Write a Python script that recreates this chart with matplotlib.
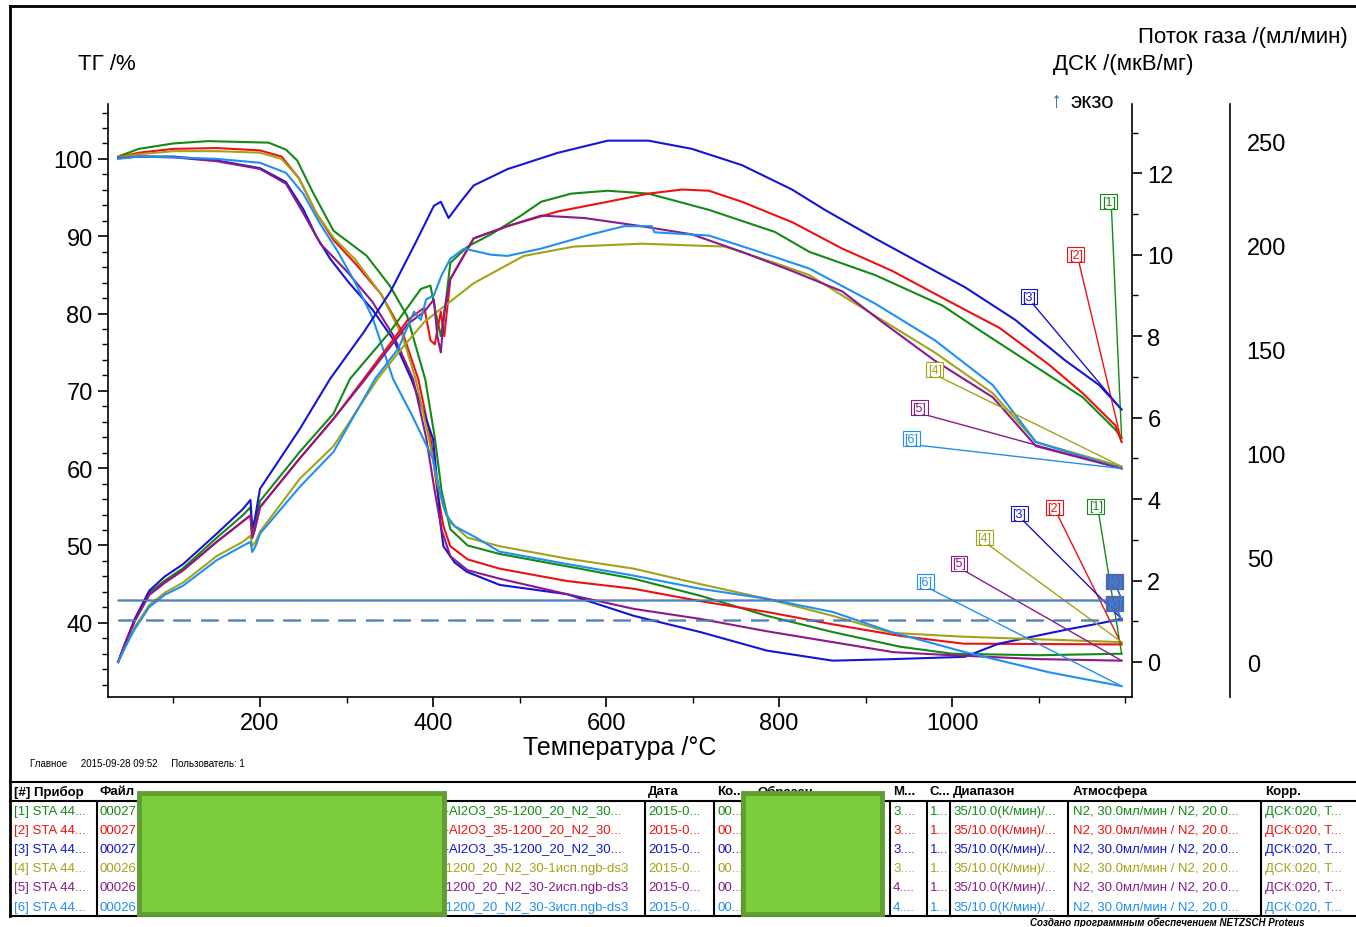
import matplotlib
matplotlib.use('Agg')
import matplotlib.pyplot as plt
from matplotlib.patches import Rectangle
from matplotlib.lines import Line2D
from matplotlib.ticker import MultipleLocator

plt.rcParams['font.family'] = ['Liberation Sans', 'DejaVu Sans']

W, H = 1356, 928

# samples [1]..[6]
names = ['[1]', '[2]', '[3]', '[4]', '[5]', '[6]']
colors = ['#138a13', '#ee1111', '#1515d5', '#a3a31a', '#8b1a8b', '#2090f0']

# TG /% vs temperature /°C
tg1 = [(36, 100.3), (60, 101.3), (100, 102.0), (140, 102.3), (210, 102.1), (230, 101.2), (243, 99.8),
       (261, 95.7), (285, 90.7), (323, 87.5), (350, 83.6), (370, 79.7), (391, 71.5), (402, 64.0),
       (410, 57.0), (420, 52.1), (440, 50.0), (477, 48.9), (555, 47.3), (632, 45.7), (709, 43.5),
       (786, 40.9), (862, 38.8), (940, 36.9), (1000, 36.0), (1100, 35.8), (1196, 36.0)]
tg2 = [(36, 100.2), (60, 100.8), (100, 101.3), (150, 101.4), (200, 101.1), (225, 100.3), (245, 97.5),
       (265, 93.0), (285, 89.5), (310, 86.5), (340, 82.5), (365, 77.5), (383, 71.5), (397, 64.0),
       (405, 57.0), (412, 52.5), (420, 49.9), (440, 48.2), (477, 47.0), (555, 45.4), (632, 44.4),
       (709, 42.8), (786, 41.4), (862, 39.8), (940, 38.3), (1013, 37.3), (1196, 37.2)]
tg3 = [(36, 100.2), (60, 100.3), (100, 100.3), (150, 99.8), (200, 98.8), (230, 97.0), (250, 93.5),
       (265, 90.0), (281, 87.1), (302, 84.1), (330, 80.5), (355, 76.5), (375, 71.5), (390, 67.0),
       (400, 63.8), (405, 58.0), (408, 53.4), (412, 49.9), (425, 47.8), (439, 46.6), (477, 44.9),
       (555, 43.7), (632, 40.9), (709, 38.8), (786, 36.4), (862, 35.1), (932, 35.3), (1015, 35.6),
       (1054, 37.3), (1136, 39.2), (1174, 40.0), (1196, 40.5)]
tg4 = [(36, 100.2), (60, 100.6), (100, 101.0), (150, 101.0), (200, 100.8), (225, 100.0), (245, 97.5),
       (265, 93.0), (285, 89.8), (310, 87.0), (340, 82.5), (365, 77.0), (380, 71.5), (395, 64.0),
       (405, 58.0), (412, 55.0), (420, 53.0), (440, 51.0), (477, 49.9), (555, 48.3), (632, 47.0),
       (709, 45.0), (786, 43.1), (862, 40.9), (930, 38.7), (1013, 38.2), (1196, 37.5)]
tg5 = [(36, 100.1), (60, 100.3), (100, 100.2), (150, 99.7), (200, 98.7), (230, 96.8), (250, 93.0),
       (270, 89.0), (300, 85.5), (330, 81.5), (355, 77.0), (377, 71.5), (392, 64.0), (402, 57.0),
       (410, 52.0), (420, 48.6), (440, 46.8), (477, 45.7), (555, 43.7), (632, 41.8), (709, 40.5),
       (786, 38.9), (862, 37.5), (932, 36.2), (1000, 35.8), (1100, 35.3), (1196, 35.1)]
tg6 = [(36, 100.0), (60, 100.3), (100, 100.2), (150, 100.0), (200, 99.5), (230, 98.2), (250, 95.5),
       (270, 91.5), (290, 88.0), (310, 84.0), (330, 79.5), (354, 71.5), (375, 67.0), (400, 61.2),
       (408, 57.0), (415, 54.0), (425, 52.5), (450, 51.0), (477, 49.2), (555, 47.6), (632, 46.1),
       (709, 44.4), (786, 43.1), (862, 41.4), (930, 38.8), (1015, 36.2), (1112, 33.6), (1196, 31.8)]

# DSC /(мкВ/мг) vs temperature /°C
dsc1 = [(36, 0.0), (45, 0.5), (55, 1.0), (72, 1.7), (90, 2.0), (111, 2.3), (150, 3.05), (180, 3.6),
        (189, 3.8), (191, 3.2), (194, 3.4), (200, 3.95), (246, 5.16), (285, 6.1), (304, 6.95),
        (350, 8.1), (386, 9.16), (397, 9.24), (403, 8.6), (409, 8.0), (414, 8.7), (420, 9.8),
        (440, 10.2), (467, 10.5), (501, 10.95), (525, 11.3), (560, 11.5), (602, 11.57), (649, 11.5),
        (719, 11.1), (795, 10.56), (835, 10.07), (911, 9.5), (989, 8.75), (1035, 8.1), (1093, 7.3),
        (1151, 6.5), (1189, 5.7), (1196, 5.5)]
dsc2 = [(36, 0.0), (45, 0.5), (55, 1.0), (72, 1.65), (90, 1.95), (111, 2.25), (150, 2.95), (180, 3.45),
        (189, 3.6), (191, 3.05), (194, 3.25), (200, 3.8), (246, 5.0), (285, 5.97), (320, 6.95),
        (371, 8.4), (390, 8.7), (397, 7.9), (402, 7.8), (409, 8.6), (413, 8.0), (420, 9.4),
        (447, 10.4), (486, 10.7), (544, 11.06), (602, 11.3), (649, 11.5), (688, 11.6), (719, 11.57),
        (757, 11.3), (815, 10.8), (873, 10.15), (931, 9.6), (997, 8.85), (1055, 8.2), (1112, 7.3),
        (1151, 6.6), (1189, 5.8), (1196, 5.4)]
dsc3 = [(36, 0.0), (45, 0.5), (55, 1.05), (72, 1.75), (90, 2.1), (111, 2.4), (150, 3.15), (180, 3.75),
        (189, 3.98), (191, 3.3), (194, 3.5), (200, 4.25), (246, 5.72), (281, 6.95), (320, 8.1),
        (351, 9.1), (380, 10.3), (401, 11.2), (409, 11.3), (418, 10.9), (432, 11.3), (447, 11.7),
        (486, 12.1), (544, 12.5), (602, 12.8), (649, 12.8), (699, 12.6), (757, 12.2), (815, 11.6),
        (853, 11.1), (911, 10.4), (1015, 9.2), (1073, 8.4), (1131, 7.4), (1170, 6.8), (1196, 6.2)]
dsc4 = [(36, 0.0), (45, 0.4), (55, 0.85), (72, 1.4), (90, 1.7), (111, 1.95), (150, 2.6), (180, 2.95),
        (189, 3.1), (191, 2.85), (195, 2.95), (200, 3.2), (246, 4.5), (285, 5.3), (336, 6.95),
        (360, 7.6), (390, 8.35), (420, 8.85), (447, 9.3), (505, 9.97), (563, 10.2), (641, 10.27),
        (737, 10.2), (795, 9.8), (835, 9.5), (911, 8.5), (980, 7.6), (1047, 6.6), (1097, 5.4),
        (1196, 4.8)]
dsc5 = [(36, 0.0), (45, 0.5), (55, 1.0), (72, 1.65), (90, 1.95), (111, 2.25), (150, 2.95), (180, 3.45),
        (189, 3.6), (191, 3.05), (194, 3.25), (200, 3.8), (246, 5.0), (285, 5.97), (320, 6.9),
        (371, 8.3), (390, 8.6), (401, 8.9), (405, 8.0), (409, 7.6), (413, 8.6), (420, 9.4),
        (447, 10.4), (486, 10.7), (525, 10.96), (575, 10.9), (641, 10.7), (699, 10.5), (757, 10.07),
        (815, 9.6), (873, 9.1), (919, 8.35), (980, 7.4), (1047, 6.5), (1097, 5.3), (1196, 4.75)]
dsc6 = [(36, 0.0), (45, 0.4), (55, 0.8), (72, 1.35), (90, 1.65), (111, 1.87), (150, 2.5), (180, 2.85),
        (189, 2.95), (191, 2.7), (195, 2.85), (200, 3.15), (246, 4.3), (285, 5.16), (333, 6.95),
        (360, 7.7), (378, 8.6), (386, 8.4), (392, 8.9), (401, 9.0), (410, 9.5), (420, 9.9),
        (436, 10.15), (467, 10.0), (486, 9.97), (525, 10.15), (583, 10.5), (621, 10.7), (653, 10.7),
        (656, 10.55), (719, 10.47), (777, 10.07), (835, 9.66), (911, 8.8), (980, 7.9), (1047, 6.8),
        (1097, 5.4), (1196, 4.75)]

# gas flow /(мл/мин)
gas_T = [36, 1196]
gas_purge = [30, 30]
gas_prot = [20, 20]

tg_all = [tg1, tg2, tg3, tg4, tg5, tg6]
dsc_all = [dsc1, dsc2, dsc3, dsc4, dsc5, dsc6]

# label anchor positions (layout, data coords)
dsc_lab_pos = [(1181, 11.3), (1143, 10.0), (1089, 8.97), (980, 7.17), (962, 6.24), (953, 5.48)]
tg_lab_pos = [(1166, 55.1), (1118, 54.9), (1078, 54.1), (1037, 51.0), (1008, 47.7), (969, 45.3)]

# table
hdr = ['[#] Прибор', 'Файл', 'Дата', 'Ко...', 'Образец', 'М...', 'С...', 'Диапазон', 'Атмосфера', 'Корр.']
hdr_x = [14, 100, 648, 717, 757, 893, 930, 953, 1073, 1265]
col_instr = ['[1] STA 44...', '[2] STA 44...', '[3] STA 44...', '[4] STA 44...', '[5] STA 44...', '[6] STA 44...']
col_file_a = ['00027', '00027', '00027', '00026', '00026', '00026']
col_file_b = [')-Al2O3_35-1200_20_N2_30...', ')-Al2O3_35-1200_20_N2_30...', ')-Al2O3_35-1200_20_N2_30...',
              '-1200_20_N2_30-1исп.ngb-ds3', '-1200_20_N2_30-2исп.ngb-ds3', '-1200_20_N2_30-3исп.ngb-ds3']
col_date = ['2015-0...'] * 6
col_ko = ['00...'] * 6
col_m = ['3....', '3....', '3....', '3....', '4....', '4....']
col_c = ['1...'] * 6
col_range = ['35/10.0(К/мин)/...'] * 6
col_atm = ['N2, 30.0мл/мин / N2, 20.0...'] * 6
col_corr = ['ДСК:020, Т...'] * 6


def fx(x):
    return x / W


def fy(y):
    return 1 - y / H


fig = plt.figure(figsize=(13.56, 9.28), dpi=100)
ax1 = fig.add_axes([fx(108), fy(698), (1132 - 108) / W, (698 - 105) / H])
ax2 = ax1.twinx()
ax3 = ax1.twinx()

for i in range(6):
    t = [p[0] for p in tg_all[i]]
    v = [p[1] for p in tg_all[i]]
    ax1.plot(t, v, color=colors[i], lw=1.5)
    t = [p[0] for p in dsc_all[i]]
    v = [p[1] for p in dsc_all[i]]
    ax2.plot(t, v, color=colors[i], lw=1.5)

for i in range(6):
    ax3.plot(gas_T, gas_purge, color=colors[i], lw=0.9)
    ax3.plot(gas_T, gas_prot, color=colors[i], lw=0.9, dashes=(14, 8))

ax1.set_xlim(24.3, 1208)
ax1.set_ylim(30.4, 107.1)
ax2.set_ylim(-0.86, 13.7)
ax3.set_ylim(-16.8, 268)

ax1.xaxis.set_major_locator(MultipleLocator(200))
ax1.xaxis.set_minor_locator(MultipleLocator(100))
ax1.set_xticks([200, 400, 600, 800, 1000])
ax1.yaxis.set_major_locator(MultipleLocator(10))
ax1.yaxis.set_minor_locator(MultipleLocator(2))
ax1.set_yticks([40, 50, 60, 70, 80, 90, 100])
ax2.yaxis.set_major_locator(MultipleLocator(2))
ax2.yaxis.set_minor_locator(MultipleLocator(1))
ax2.set_yticks([0, 2, 4, 6, 8, 10, 12])
ax3.set_yticks([0, 50, 100, 150, 200, 250])

for a in (ax1, ax2, ax3):
    for s in a.spines.values():
        s.set_visible(False)
        s.set_linewidth(1.2)
    a.tick_params(which='major', length=7, width=1.2, labelsize=17, direction='out', pad=4)
    a.tick_params(which='minor', length=4, width=1.0, direction='out')
ax1.spines['left'].set_visible(True)
ax1.spines['bottom'].set_visible(True)
ax2.spines['right'].set_visible(True)
ax3.spines['right'].set_visible(True)
ax3.spines['right'].set_position(('axes', (1230 - 108) / (1132 - 108)))
ax3.tick_params(which='major', length=0, pad=12)

bbox_kw = dict(boxstyle='square,pad=0.12', fc='white', lw=0.8)
for i in range(6):
    c = colors[i]
    ax2.annotate(names[i], xy=dsc_all[i][-1], xytext=dsc_lab_pos[i], textcoords='data',
                 fontsize=9, color=c, ha='center', va='center',
                 bbox=dict(ec=c, **bbox_kw),
                 arrowprops=dict(arrowstyle='-', color=c, lw=1.0, shrinkA=0, shrinkB=0, relpos=(0.7, 0)))
    ax1.annotate(names[i], xy=tg_all[i][-1], xytext=tg_lab_pos[i], textcoords='data',
                 fontsize=9, color=c, ha='center', va='center',
                 bbox=dict(ec=c, **bbox_kw),
                 arrowprops=dict(arrowstyle='-', color=c, lw=1.0, shrinkA=0, shrinkB=0, relpos=(0.7, 0)))
for i in range(6):
    c = colors[i]
    ax3.annotate(names[i], xy=(gas_T[-1], gas_purge[-1]), xytext=(1188, 38.5), textcoords='data',
                 fontsize=9, color=c, ha='center', va='center',
                 bbox=dict(boxstyle='square,pad=0.12', fc=c, alpha=0.45, lw=0.8, ec=c),
                 arrowprops=dict(arrowstyle='-', color=c, lw=0.8, shrinkA=0, shrinkB=0))
    ax3.annotate(names[i], xy=(gas_T[-1], gas_prot[-1]), xytext=(1188, 27.9), textcoords='data',
                 fontsize=9, color=c, ha='center', va='center',
                 bbox=dict(boxstyle='square,pad=0.12', fc=c, alpha=0.45, lw=0.8, ec=c),
                 arrowprops=dict(arrowstyle='-', color=c, lw=0.8, shrinkA=0, shrinkB=0))

# axis titles
fig.text(fx(78), fy(65), 'ТГ /%', fontsize=16, va='center', ha='left')
fig.text(fx(1348), fy(37), 'Поток газа /(мл/мин)', fontsize=16, va='center', ha='right')
fig.text(fx(1053), fy(65), 'ДСК /(мкВ/мг)', fontsize=16, va='center', ha='left')
fig.text(fx(1050), fy(102), '↑', fontsize=16, va='center', ha='left', color='#2e6fb0')
fig.text(fx(1070), fy(103), 'экзо', fontsize=16, va='center', ha='left')
fig.text(fx(620), fy(748), 'Температура /°C', fontsize=18, va='center', ha='center')
fig.text(fx(30), fy(764), 'Главное     2015-09-28 09:52     Пользователь: 1', fontsize=7, va='center')
fig.text(fx(1030), fy(923), 'Создано программным обеспечением NETZSCH Proteus', fontsize=7,
         style='italic', weight='bold', va='center')

# frame
def hline(y, x0, x1, lw):
    fig.add_artist(Line2D([fx(x0), fx(x1)], [fy(y), fy(y)], color='black', lw=lw))


def vline(x, y0, y1, lw):
    fig.add_artist(Line2D([fx(x), fx(x)], [fy(y0), fy(y1)], color='black', lw=lw))


hline(7, 10, 1356, 2.0)
vline(10, 7, 917, 2.0)
hline(783, 10, 1356, 1.5)
hline(802, 10, 1356, 1.5)
hline(917, 10, 1356, 1.5)
for x in [97, 443, 645, 714, 742, 890, 927, 950, 1068, 1261]:
    vline(x, 802, 917, 1.5)

# table text
row_y = [812, 831, 850, 869, 888, 908]
for j, hx in enumerate(hdr_x):
    fig.text(fx(hx), fy(792), hdr[j], fontsize=9.5, weight='bold', va='center')
cols = [(14, col_instr), (100, col_file_a), (441, col_file_b), (648, col_date), (717, col_ko),
        (893, col_m), (930, col_c), (953, col_range), (1073, col_atm), (1265, col_corr)]
for cx, vals in cols:
    for i, ry in enumerate(row_y):
        fig.text(fx(cx), fy(ry), vals[i], fontsize=9.5, color=colors[i], va='center')

# redaction blocks
for x0, x1 in [(139, 444), (743, 882)]:
    fig.add_artist(Rectangle((fx(x0), fy(915)), fx(x1 - x0), (915 - 794) / H,
                             fc='#7ccd3c', ec='#5f9e32', lw=3.5, zorder=10))

fig.savefig('out.png', dpi=100)
